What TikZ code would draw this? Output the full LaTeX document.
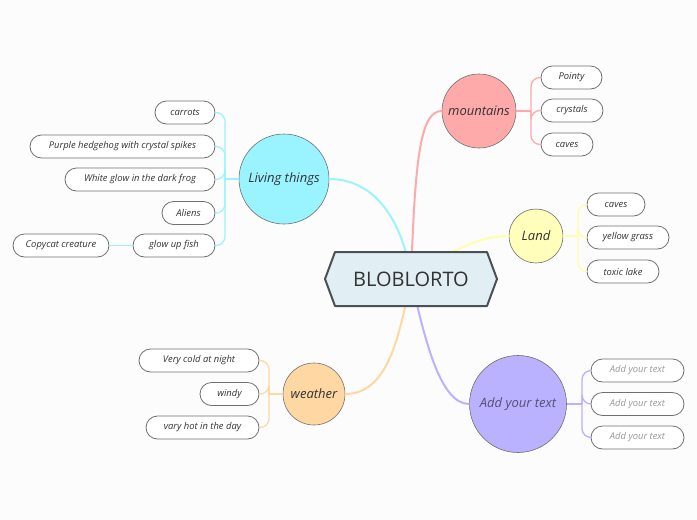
\documentclass[tikz,border=0pt]{standalone}
\usepackage{fontspec}
\setmainfont{Open Sans}
\usetikzlibrary{shapes.misc,backgrounds}
\definecolor{bgc}{HTML}{FCFCFC}
\definecolor{hexfill}{HTML}{E1EEF4}
\definecolor{hexdraw}{HTML}{4B5055}
\definecolor{mcol}{HTML}{FFAAAA}
\definecolor{lcol}{HTML}{9AF4FF}
\definecolor{ycol}{HTML}{FFFFBB}
\definecolor{ylin}{HTML}{FFFFA8}
\definecolor{wcol}{HTML}{FFD7A3}
\definecolor{acol}{HTML}{BBB2FF}
\definecolor{txt}{HTML}{333333}
\definecolor{bord}{HTML}{707070}
\tikzset{
  box/.style={rounded rectangle, draw=bord, line width=0.8pt, fill=white, minimum height=23pt, inner xsep=2pt, inner ysep=0pt, font=\fontsize{9.4}{11}\selectfont\itshape, text=txt},
  topic/.style={circle, draw=bord, line width=0.6pt, inner sep=0pt, font=\fontsize{13}{15}\selectfont\itshape, text=txt},
  mainline/.style={line width=2pt, line cap=round},
  subline/.style={line width=1.3pt, rounded corners=9pt},
}
\begin{document}
\begin{tikzpicture}[x=1pt,y=-1pt]
\fill[bgc] (0,0) rectangle (697,520);
\useasboundingbox (0,0) rectangle (697,520);
% central
\coordinate (c) at (411,279);
\node[topic, fill=mcol, minimum size=74pt] (mt) at (479,111) {mountains};
\node[topic, fill=lcol, minimum size=90pt] (lt) at (284,179) {Living things};
\node[topic, fill=ycol, minimum size=54pt] (ld) at (536,236) {Land};
\node[topic, fill=wcol, minimum size=62pt] (we) at (314,394) {weather};
\node[topic, fill=acol, minimum size=97pt, text=black!55!acol] (ad) at (518,404) {Add your text};
% main connectors
\draw[mainline, mcol] (c) .. controls (415,160) and (420,111) .. (mt.west);
\draw[mainline, lcol] (lt.east) .. controls (380,179) and (405,230) .. (c);
\draw[mainline, ylin] (c) .. controls (450,250) and (480,236) .. (ld.west);
\draw[mainline, wcol] (we.east) .. controls (390,394) and (400,330) .. (c);
\draw[mainline, acol] (c) .. controls (425,340) and (440,404) .. (ad.west);
% central hexagon
\filldraw[fill=hexfill, draw=hexdraw, line width=2pt, line join=round]
  (335,252) -- (487,252) -- (497,279) -- (487,306) -- (335,306) -- (325,279) -- cycle;
\node[font=\fontsize{20}{24}\selectfont, text=txt] (title) at (411,279) {BLOBLORTO};
% mountains children
\node[box, minimum width=65pt] (m1) at (571.5,77.5) {Pointy};
\node[box, minimum width=66pt] (m2) at (572,110.5) {crystals};
\node[box, minimum width=56pt] (m3) at (567,144.5) {caves};
\coordinate (mx) at (531,111);
\draw[subline, mcol] (mt.east) -- (mx);
\foreach \n in {m1,m2,m3} \draw[subline, mcol] (mx) |- (\n.west);
% living children
\node[box, minimum width=64pt] (l1) at (185,112.5) {carrots};
\node[box, minimum width=189pt] (l2) at (122.5,146.5) {Purple hedgehog with crystal spikes};
\node[box, minimum width=154pt] (l3) at (140,179.5) {White glow in the dark frog};
\node[box, minimum width=57pt] (l4) at (188.5,213) {Aliens};
\node[box, minimum width=86pt] (l5) at (174,245.5) {glow up fish};
\node[box, minimum width=100pt] (l6) at (61,245.5) {Copycat creature};
\coordinate (lx) at (225,179);
\draw[subline, lcol] (lt.west) -- (lx);
\foreach \n in {l1,l2,l3,l4,l5} \draw[subline, lcol] (lx) |- (\n.east);
\draw[subline, lcol] (l5.west) -- (l6.east);
% land children
\node[box, minimum width=62pt] (y1) at (616,204.5) {caves};
\node[box, minimum width=86pt] (y2) at (628,237.5) {yellow grass};
\node[box, minimum width=76pt] (y3) at (623,271.5) {toxic lake};
\coordinate (yx) at (578,236);
\draw[subline, ylin] (ld.east) -- (yx);
\foreach \n in {y1,y2,y3} \draw[subline, ylin] (yx) |- (\n.west);
% weather children
\node[box, minimum width=124pt] (w1) at (199,360.5) {Very cold at night};
\node[box, minimum width=63pt] (w2) at (229.5,394) {windy};
\node[box, minimum width=117pt] (w3) at (202.5,427.5) {vary hot in the day};
\coordinate (wx) at (269,394);
\draw[subline, wcol] (we.west) -- (wx);
\foreach \n in {w1,w2,w3} \draw[subline, wcol] (wx) |- (\n.east);
% add children
\node[box, minimum width=97pt, text=black!40] (a1) at (637.5,370.5) {Add your text};
\node[box, minimum width=97pt, text=black!40] (a2) at (637.5,404) {Add your text};
\node[box, minimum width=97pt, text=black!40] (a3) at (637.5,437.5) {Add your text};
\coordinate (ax) at (582,404);
\draw[subline, acol] (ad.east) -- (ax);
\foreach \n in {a1,a2,a3} \draw[subline, acol] (ax) |- (\n.west);
\end{tikzpicture}
\end{document}
